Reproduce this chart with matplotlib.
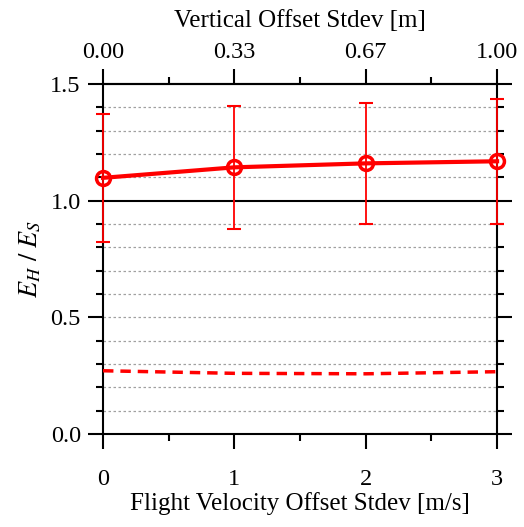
import matplotlib
matplotlib.use("Agg")
import matplotlib.pyplot as plt
from matplotlib.ticker import MultipleLocator, FixedLocator

plt.rcParams["font.family"] = ["Liberation Serif", "DejaVu Serif"]
plt.rcParams["mathtext.fontset"] = "stix"

# Data
velocity_stdev = [0, 1, 2, 3]
vertical_labels = ["0.00", "0.33", "0.67", "1.00"]
ratio_mean = [1.098, 1.143, 1.160, 1.169]
ratio_upper = [1.370, 1.407, 1.419, 1.437]
ratio_lower = [0.824, 0.877, 0.900, 0.900]
baseline_ratio = [0.271, 0.260, 0.258, 0.267]

err_low = [m - lo for m, lo in zip(ratio_mean, ratio_lower)]
err_high = [hi - m for m, hi in zip(ratio_mean, ratio_upper)]

fig = plt.figure(figsize=(5.24, 5.27), dpi=100)
ax = fig.add_axes([0.1966, 0.1765, 0.752, 0.664])

# dotted minor grid every 0.1, solid black reference at 1.0
for y in [0.1, 0.2, 0.3, 0.4, 0.5, 0.6, 0.7, 0.8, 0.9, 1.1, 1.2, 1.3, 1.4]:
    ax.axhline(y, color="#a0a0a0", lw=0.9, ls=(0, (2, 2)), zorder=1)
ax.axhline(1.0, color="black", lw=1.5, zorder=2)

ax.errorbar(velocity_stdev, ratio_mean, yerr=[err_low, err_high], fmt="none",
            ecolor="red", elinewidth=1.3, capsize=5, capthick=1.5, zorder=3,
            clip_on=False)
ax.plot(velocity_stdev, ratio_mean, color="red", lw=3, marker="o", ms=10,
        mfc="none", mec="red", mew=2.5, zorder=4, clip_on=False)
ax.plot(velocity_stdev, baseline_ratio, color="red", lw=2.5,
        ls=(0, (3, 2)), zorder=4)

ax.set_xlim(0, 3)
ax.set_ylim(0, 1.5)
ax.xaxis.set_major_locator(MultipleLocator(1))
ax.xaxis.set_minor_locator(MultipleLocator(0.5))
ax.yaxis.set_major_locator(MultipleLocator(0.5))
ax.yaxis.set_minor_locator(MultipleLocator(0.1))
ax.yaxis.set_major_formatter(lambda v, p: "{0:.1f}".format(v))

for side in ["left", "right", "top", "bottom"]:
    ax.spines[side].set_linewidth(1.5)

ax.tick_params(which="major", direction="out", length=11, width=1.5,
               labelsize=17.5, right=True, pad=5)
ax.tick_params(axis="x", which="major", pad=14)
ax.tick_params(which="minor", direction="out", length=5, width=1.5, right=True)

ax.set_xlabel("Flight Velocity Offset Stdev [m/s]", fontsize=18, labelpad=2)
ax.set_ylabel("$E_H\\ /\\ E_S$", fontsize=19, labelpad=5)

top = ax.secondary_xaxis("top")
top.xaxis.set_major_locator(FixedLocator(velocity_stdev))
top.xaxis.set_minor_locator(MultipleLocator(0.5))
top.set_xticklabels(vertical_labels)
top.tick_params(which="major", direction="out", length=11, width=1.5,
                labelsize=17.5, pad=4)
top.tick_params(which="minor", direction="out", length=5, width=1.5)
top.spines["top"].set_linewidth(1.5)
top.set_xlabel("Vertical Offset Stdev [m]", fontsize=18, labelpad=11)

fig.savefig("out.png", dpi=100)
